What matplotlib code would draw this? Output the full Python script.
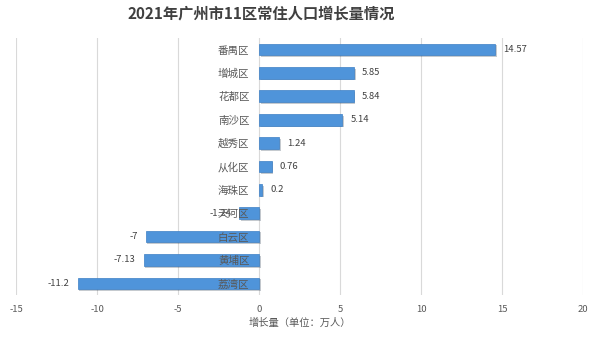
import matplotlib.pyplot as plt
import matplotlib.patheffects as pe

plt.rcParams['font.family'] = ['Noto Sans CJK SC', 'DejaVu Sans']
plt.rcParams['axes.unicode_minus'] = False

districts = ['番禺区', '增城区', '花都区', '南沙区', '越秀区', '从化区',
             '海珠区', '天河区', '白云区', '黄埔区', '荔湾区']
growth = [14.57, 5.85, 5.84, 5.14, 1.24, 0.76, 0.2, -1.24, -7, -7.13, -11.2]
value_labels = ['14.57', '5.85', '5.84', '5.14', '1.24', '0.76', '0.2',
                '-1.24', '-7', '-7.13', '-11.2']

fig = plt.figure(figsize=(6, 3.38), dpi=100)
ax = fig.add_axes([0.027, 0.127, 0.945, 0.761])

pos = list(range(len(districts)))
bars = ax.barh(pos, growth, height=0.5, color='#4f94da',
               edgecolor='#3d7fc4', linewidth=0.5, zorder=2)
for b in bars:
    b.set_path_effects([pe.SimplePatchShadow(offset=(1.2, -1.2), alpha=0.25), pe.Normal()])

for p, v, lab in zip(pos, growth, value_labels):
    if v >= 0:
        ax.text(v + 0.5, p, lab, va='center', ha='left', fontsize=6.8, color='#404040')
    else:
        ax.text(v - 0.5, p, lab, va='center', ha='right', fontsize=6.8, color='#404040')

# y axis sits at x = 0, like the spreadsheet chart
ax.spines['left'].set_position(('data', 0))
for s in ['left', 'right', 'top', 'bottom']:
    ax.spines[s].set_visible(False)

ax.set_xlim(-15, 20)
ax.set_ylim(len(districts) - 0.5, -0.5)
ax.set_xticks(range(-15, 21, 5))
ax.set_yticks(pos)
ax.set_yticklabels(districts)
ax.tick_params(axis='y', length=0, pad=7, labelsize=7.6, labelcolor='#595959')
ax.tick_params(axis='x', length=0, labelsize=6.8, labelcolor='#595959', pad=7)
ax.grid(axis='x', color='#d9d9d9', linewidth=0.8)
ax.xaxis.set_zorder(0.5)
ax.yaxis.set_zorder(5)

ax.set_xlabel('增长量（单位：万人）', fontsize=7.4, color='#595959', labelpad=3)
fig.suptitle('2021年广州市11区常住人口增长量情况', fontsize=11, fontweight='bold',
             color='#404040', x=0.435, y=0.985)

fig.savefig('out.png', dpi=100)
